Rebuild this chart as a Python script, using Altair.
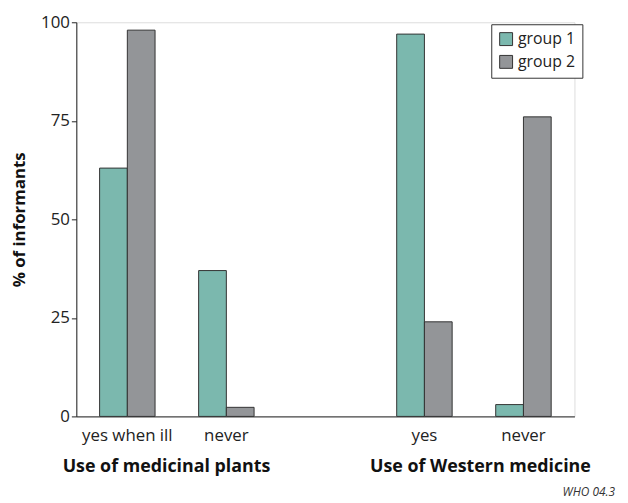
import altair as alt
import pandas as pd

# categories (gap slot between the two question groups)
categories = ["yes when ill", "never", " ", "yes", "never "]
groups = ["group 1", "group 2"]
group1_values = [63, 37, 97, 3]
group2_values = [98, 2.3, 24, 76]
bar_categories = ["yes when ill", "never", "yes", "never "]
question_titles = ["Use of medicinal plants", "Use of Western medicine"]
y_ticks = [0, 25, 50, 75, 100]
note = "WHO 04.3"

rows = []
for c, v1, v2 in zip(bar_categories, group1_values, group2_values):
    rows.append({"cat": c, "group": "group 1", "value": v1})
    rows.append({"cat": c, "group": "group 2", "value": v2})
df = pd.DataFrame(rows)

FONT = "Open Sans"
W, H = 503, 398

bars = alt.Chart(df).mark_bar(stroke="#333333", strokeWidth=1).encode(
    x=alt.X("cat:N", sort=categories,
            scale=alt.Scale(domain=categories, paddingInner=0.44, paddingOuter=0.235),
            axis=alt.Axis(title=None, labelAngle=0, ticks=False, labelPadding=11,
                          labelFontSize=17, labelColor="#222222", labelFont=FONT,
                          domainColor="#222222")),
    xOffset=alt.XOffset("group:N", scale=alt.Scale(domain=groups, paddingInner=0)),
    y=alt.Y("value:Q", scale=alt.Scale(domain=[0, 100], nice=False),
            axis=alt.Axis(title="% of informants", values=y_ticks, grid=False,
                          tickSize=5, tickColor="#222222", domainColor="#222222",
                          labelFontSize=17, labelColor="#222222", labelFont=FONT,
                          labelPadding=2, titleFontSize=17, titleFont=FONT,
                          titleFontWeight="bold", titleColor="#111111",
                          titlePadding=12)),
    color=alt.Color("group:N",
                    scale=alt.Scale(domain=groups, range=["#7bb8ae", "#939598"]),
                    legend=alt.Legend(title=None, orient="none", legendX=419, legendY=2,
                                      strokeColor="#333333", padding=7,
                                      symbolType="square", symbolSize=170,
                                      symbolStrokeColor="#333333", symbolStrokeWidth=1,
                                      symbolOpacity=1,
                                      labelFontSize=16, labelFont=FONT,
                                      labelColor="#222222", rowPadding=5,
                                      fillColor="white")),
)

titles_df = pd.DataFrame({"t": question_titles, "px": [91, 408]})
titles = alt.Chart(titles_df).mark_text(fontSize=18, fontWeight="bold", font=FONT,
                                        color="#111111", baseline="middle").encode(
    x=alt.X("px:Q", scale=None),
    y=alt.value(H + 51),
    text="t:N",
)

note_df = pd.DataFrame({"t": [note]})
note_mark = alt.Chart(note_df).mark_text(fontSize=12, fontStyle="italic", font=FONT,
                                         color="#333333", align="right",
                                         baseline="middle").encode(
    x=alt.value(W + 41),
    y=alt.value(H + 76),
    text="t:N",
)

chart = alt.layer(bars, titles, note_mark).properties(
    width=W, height=H,
    autosize=alt.AutoSizeParams(type="none"),
    padding={"left": 69, "top": 12, "right": 46, "bottom": 82},
).configure_view(stroke=None).configure(background="white")

chart.save("out.html", embed_options={"renderer": "svg", "actions": False})
